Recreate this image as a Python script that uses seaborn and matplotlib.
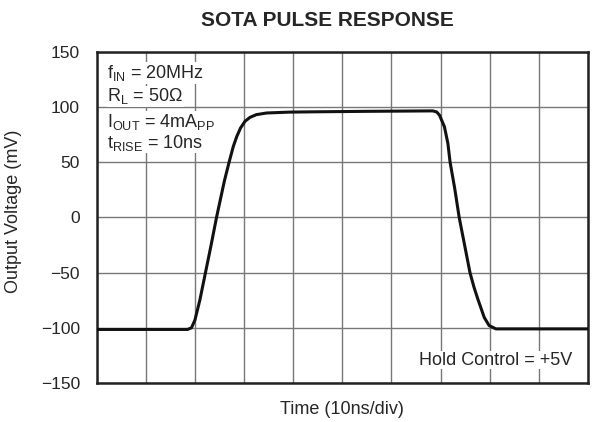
import matplotlib
matplotlib.use("Agg")
import matplotlib.pyplot as plt
import seaborn as sns
import pandas as pd

# Pulse response (x in divisions, y in mV)
time_div = [0.0, 1.0, 1.85, 1.93, 2.0, 2.1, 2.215, 2.33, 2.44, 2.6, 2.696,
            2.78, 2.85, 2.93, 3.02, 3.12, 3.25, 3.46, 3.93, 4.5, 5.5, 6.5,
            6.84, 6.92, 6.98, 7.08, 7.15, 7.195, 7.29, 7.38, 7.49, 7.6,
            7.68, 7.76, 7.89, 7.99, 8.13, 8.5, 9.0, 10.0]
output_mv = [-101.5, -101.5, -101.5, -100, -93, -75, -50, -25, 0, 33, 50,
             64, 73, 81, 87, 90.5, 93, 94.5, 95.3, 95.6, 96.0, 96.3,
             96.4, 95.5, 92.5, 82, 67, 50, 26, 0, -25, -50,
             -63, -74, -90.6, -98, -101, -101, -101, -101]

y_ticks = [-150, -100, -50, 0, 50, 100, 150]
notes = [r"f$_{\mathrm{IN}}$ = 20MHz", r"R$_{\mathrm{L}}$ = 50$\Omega$",
         r"I$_{\mathrm{OUT}}$ = 4mA$_{\mathrm{PP}}$", r"t$_{\mathrm{RISE}}$ = 10ns"]
note_y = [126, 105, 82, 63]

df = pd.DataFrame({"time": time_div, "mv": output_mv})

sns.set_style("white")
plt.rcParams["font.family"] = ["Liberation Sans", "DejaVu Sans"]
plt.rcParams["mathtext.fontset"] = "custom"
plt.rcParams["mathtext.rm"] = "Liberation Sans"
plt.rcParams["mathtext.it"] = "Liberation Sans"

fig = plt.figure(figsize=(5.95, 4.22), dpi=100)
ax = fig.add_axes([0.1625, 0.0924, 0.8255, 0.7851])

sns.lineplot(data=df, x="time", y="mv", color="#111111", linewidth=2.2, ax=ax, zorder=5)

ax.set_xlim(0, 10)
ax.set_ylim(-150, 150)
ax.set_xticks(range(11))
ax.set_xticklabels([])
ax.set_yticks(y_ticks)
ax.set_yticklabels([str(t).replace("-", "\u2212") for t in y_ticks])
ax.grid(True, color="#777777", linewidth=1.0)
ax.tick_params(length=0, labelsize=12.5, pad=12)
for s in ax.spines.values():
    s.set_linewidth(1.8)
    s.set_color("#222222")

ax.set_xlabel("Time (10ns/div)", fontsize=13)
ax.xaxis.set_label_coords(0.5, -0.055)
ax.set_ylabel("Output Voltage (mV)", fontsize=13)
ax.yaxis.set_label_coords(-0.152, 0.519)
fig.text(327 / 595, 1 - 20 / 422, "SOTA PULSE RESPONSE", fontsize=15,
         fontweight="bold", ha="center", va="center")

for txt, yv in zip(notes, note_y):
    ax.text(0.215, yv, txt, fontsize=13, va="baseline", ha="left",
            zorder=4, bbox=dict(facecolor="white", edgecolor="none", pad=0.5))

ax.text(9.68, -133.3, "Hold Control = +5V", fontsize=13, va="baseline", ha="right",
        zorder=4, bbox=dict(facecolor="white", edgecolor="none", pad=0.5))

plt.savefig("out.png", dpi=100)
